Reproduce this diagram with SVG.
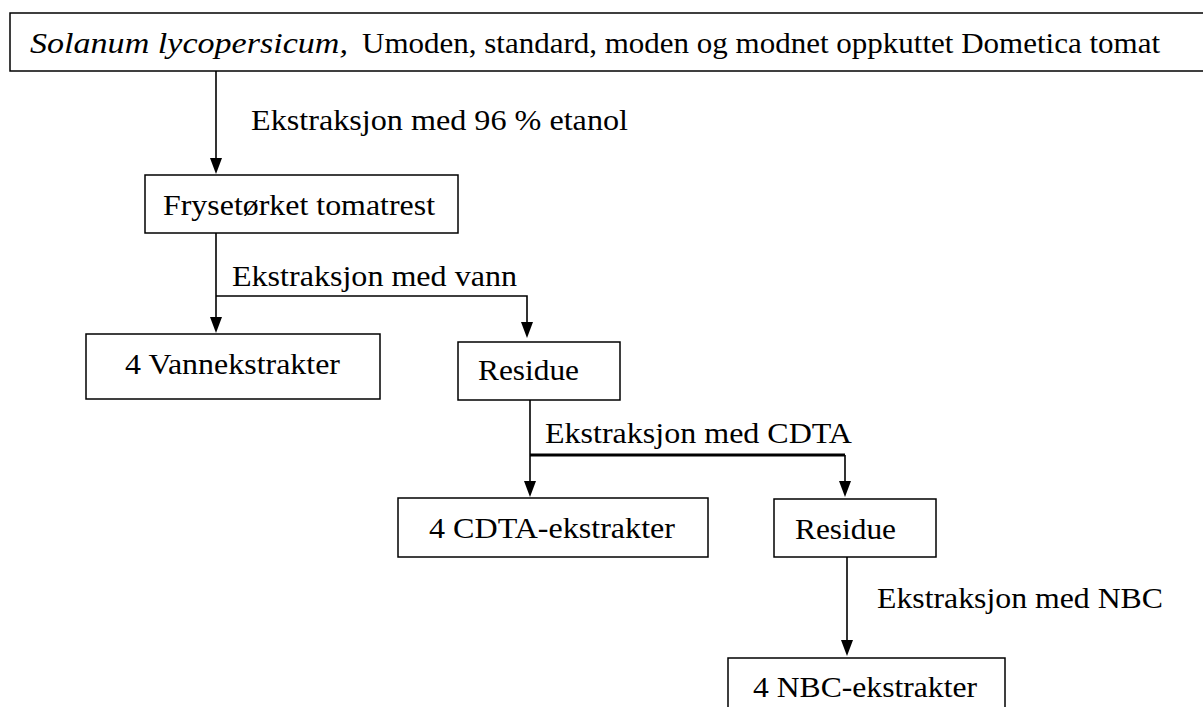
<svg xmlns="http://www.w3.org/2000/svg" width="1203" height="707" viewBox="0 0 1203 707">
<style>
.box{fill:#fff;stroke:#000;stroke-width:1.5}
.t{font-family:"Liberation Serif","Times New Roman",serif;font-size:30px;fill:#000}
.it{font-style:italic}
.c{fill:none;stroke:#000;stroke-width:1.6}
.thick{stroke-width:3}
</style>
<rect width="1203" height="707" fill="#fff"/>
<g id="connectors">
<path class="c" d="M216,71 V160"/>
<path class="c" d="M216,233 V320"/>
<path class="c" d="M216,296 H527 V325"/>
<path class="c" d="M530,400 V484"/>
<path class="c thick" d="M530,455 H845"/>
<path class="c" d="M845,455 V484"/>
<path class="c" d="M847,557 V642"/>
<g fill="#000">
<path d="M210,158 L222,158 L216,174 Z"/>
<path d="M210,317 L222,317 L216,333 Z"/>
<path d="M521,322 L533,322 L527,338 Z"/>
<path d="M524,481 L536,481 L530,497 Z"/>
<path d="M839,481 L851,481 L845,497 Z"/>
<path d="M841,640 L853,640 L847,656 Z"/>
</g>
<text class="t" x="251" y="130" textLength="377" lengthAdjust="spacingAndGlyphs">Ekstraksjon med 96 % etanol</text>
<text class="t" x="232" y="286" textLength="285" lengthAdjust="spacingAndGlyphs">Ekstraksjon med vann</text>
<text class="t" x="545" y="443" textLength="307" lengthAdjust="spacingAndGlyphs">Ekstraksjon med CDTA</text>
<text class="t" x="877" y="608" textLength="286" lengthAdjust="spacingAndGlyphs">Ekstraksjon med NBC</text>
</g>
<g id="n-source">
<rect class="box" x="10" y="13" width="1200" height="58"/>
<text class="t it" x="30" y="53" textLength="318" lengthAdjust="spacingAndGlyphs">Solanum lycopersicum,</text>
<text class="t" x="362" y="53" textLength="798" lengthAdjust="spacingAndGlyphs">Umoden, standard, moden og modnet oppkuttet Dometica tomat</text>
</g>
<g id="n-frys">
<rect class="box" x="145" y="175" width="313" height="58"/>
<text class="t" x="163" y="215" textLength="272" lengthAdjust="spacingAndGlyphs">Frysetørket tomatrest</text>
</g>
<g id="n-vann">
<rect class="box" x="86" y="334" width="294" height="65"/>
<text class="t" x="125" y="374" textLength="215" lengthAdjust="spacingAndGlyphs">4 Vannekstrakter</text>
</g>
<g id="n-res1">
<rect class="box" x="458" y="342" width="162" height="58"/>
<text class="t" x="478" y="380" textLength="101" lengthAdjust="spacingAndGlyphs">Residue</text>
</g>
<g id="n-cdta">
<rect class="box" x="398" y="498" width="310" height="59"/>
<text class="t" x="429" y="538" textLength="246" lengthAdjust="spacingAndGlyphs">4 CDTA-ekstrakter</text>
</g>
<g id="n-res2">
<rect class="box" x="774" y="499" width="162" height="58"/>
<text class="t" x="795" y="539" textLength="101" lengthAdjust="spacingAndGlyphs">Residue</text>
</g>
<g id="n-nbc">
<rect class="box" x="728" y="658" width="277" height="60"/>
<text class="t" x="753" y="697" textLength="224" lengthAdjust="spacingAndGlyphs">4 NBC-ekstrakter</text>
</g>
</svg>
